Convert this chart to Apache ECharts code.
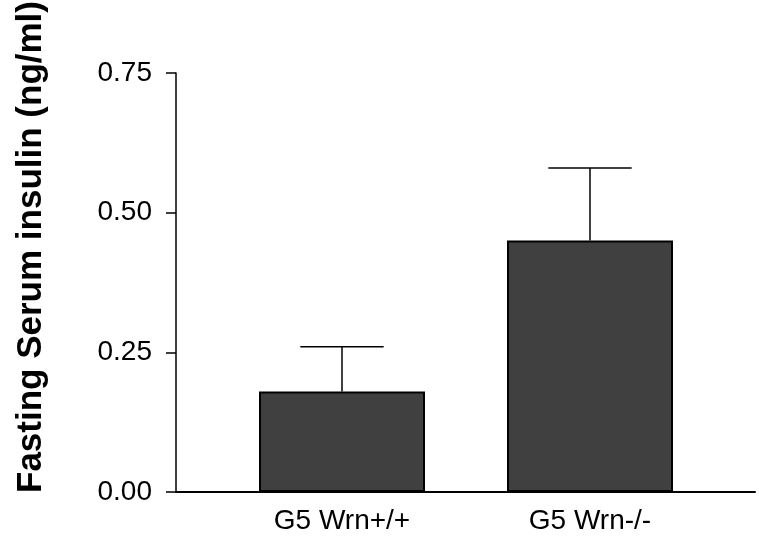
<!DOCTYPE html>
<html>
<head>
<meta charset="utf-8">
<script src="https://cdn.jsdelivr.net/npm/echarts@6/dist/echarts.min.js"></script>
<style>html,body{margin:0;padding:0;background:#fff;}#c{width:759px;height:540px;}</style>
</head>
<body>
<div id="c"></div>
<script>
const categories = ['G5 Wrn+/+', 'G5 Wrn-/-'];
const means = [0.18, 0.45];
const errors = [0.08, 0.13];
const yMin = 0, yMax = 0.75, yStep = 0.25;
const yTitle = 'Fasting Serum insulin (ng/ml)';

const chart = echarts.init(document.getElementById('c'));
const font = '"Liberation Sans", Arial, sans-serif';
chart.setOption({
  animation: false,
  backgroundColor: '#ffffff',
  grid: [
    {left: 218, right: 45, top: 73, bottom: 48},
    {left: 176, right: 4, top: 73, bottom: 48}
  ],
  graphic: [{
    type: 'text', x: 31, y: 247, rotation: Math.PI / 2,
    style: {text: yTitle, font: 'bold 35px ' + font, fill: '#000', textAlign: 'center', textVerticalAlign: 'middle'}
  }],
  xAxis: [
    {gridIndex: 0, type: 'category', data: categories,
     axisLine: {show: false}, axisTick: {show: false},
     axisLabel: {color: '#000', fontSize: 28, fontFamily: font, margin: 15}},
    {gridIndex: 1, type: 'value', min: 0, max: 1,
     axisLine: {show: true, lineStyle: {color: '#000', width: 2}},
     axisTick: {show: false}, axisLabel: {show: false}, splitLine: {show: false}}
  ],
  yAxis: [
    {gridIndex: 0, type: 'value', min: yMin, max: yMax, show: false},
    {gridIndex: 1, type: 'value', min: yMin, max: yMax, interval: yStep,
     axisLine: {show: true, lineStyle: {color: '#000', width: 1.5}},
     axisTick: {show: true, length: 10, lineStyle: {color: '#000', width: 1.5}},
     splitLine: {show: false},
     axisLabel: {color: '#000', fontSize: 28, fontFamily: font, margin: 24,
       formatter: v => v.toFixed(2)}}
  ],
  series: [
    {type: 'custom', xAxisIndex: 0, yAxisIndex: 0, z: 1,
     data: means.map((m, i) => [i, m, m + errors[i]]),
     renderItem: (params, api) => {
       const x = api.value(0);
       const lo = api.coord([x, api.value(1)]);
       const hi = api.coord([x, api.value(2)]);
       const half = api.size([1, 0])[0] * 0.168;
       const st = {stroke: '#000', lineWidth: 1.5};
       return {type: 'group', children: [
         {type: 'line', shape: {x1: lo[0], y1: lo[1], x2: hi[0], y2: hi[1]}, style: st},
         {type: 'line', shape: {x1: hi[0] - half, y1: hi[1], x2: hi[0] + half, y2: hi[1]}, style: st}
       ]};
     }},
    {type: 'bar', xAxisIndex: 0, yAxisIndex: 0, z: 2, data: means, barWidth: 166,
     itemStyle: {color: '#404040', borderColor: '#000', borderWidth: 2}}
  ]
});
</script>
</body>
</html>
